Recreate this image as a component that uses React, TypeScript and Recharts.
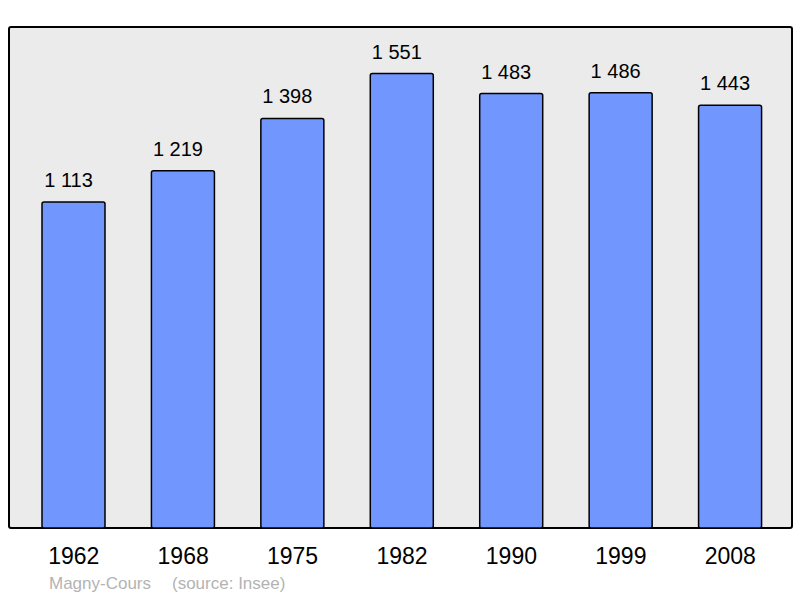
import { BarChart, Bar, XAxis, YAxis, LabelList, Rectangle } from "recharts";

const YEARS = ["1962", "1968", "1975", "1982", "1990", "1999", "2008"];
const POPULATION = [1113, 1219, 1398, 1551, 1483, 1486, 1443];

const data = YEARS.map((year, i) => ({ year, pop: POPULATION[i] }));

const FONT = "'Liberation Sans', Arial, sans-serif";

function fmt(v: number) {
  return String(v).replace(/\B(?=(\d{3})+(?!\d))/g, " ");
}

function YearTick(props: any) {
  const { x, y, payload } = props;
  return (
    <text x={x} y={y + 28} textAnchor="middle" fontSize={23} fontFamily={FONT} fill="#000">
      {payload.value}
    </text>
  );
}

function ValueLabel(props: any) {
  const { x, y, width, value } = props;
  return (
    <text x={x + width / 2 - 5} y={y - 15} textAnchor="middle" fontSize={20} fontFamily={FONT} fill="#000">
      {fmt(Number(value))}
    </text>
  );
}

export default function App() {
  return (
    <div style={{ position: "absolute", left: 0, top: 0, width: 800, height: 598, background: "#fff" }}>
      <div
        style={{
          position: "absolute",
          left: 8,
          top: 26,
          width: 781,
          height: 499,
          border: "2px solid #000",
          borderRadius: 3,
          background: "#ebebeb",
        }}
      />
      <div style={{ position: "absolute", left: 0, top: 0 }}>
        <BarChart
          width={800}
          height={598}
          data={data}
          margin={{ top: 27, right: 15, bottom: 40, left: 19 }}
          barSize={63}
        >
          <XAxis
            dataKey="year"
            axisLine={false}
            tickLine={false}
            height={30}
            tick={<YearTick />}
            interval={0}
          />
          <YAxis hide domain={[0, 1710]} />
          <Bar
            dataKey="pop"
            fill="#7197ff"
            stroke="#000"
            strokeWidth={1.5}
            isAnimationActive={false}
            shape={(p: any) => <Rectangle {...p} radius={2} />}
          >
            <LabelList dataKey="pop" content={<ValueLabel />} />
          </Bar>
        </BarChart>
      </div>
      <div
        style={{
          position: "absolute",
          left: 49,
          top: 574,
          fontFamily: FONT,
          fontSize: 17,
          color: "#b3b3b3",
          whiteSpace: "pre",
        }}
      >
        <span>Magny-Cours</span>
        <span style={{ position: "absolute", left: 123, top: 0 }}>(source: Insee)</span>
      </div>
    </div>
  );
}
